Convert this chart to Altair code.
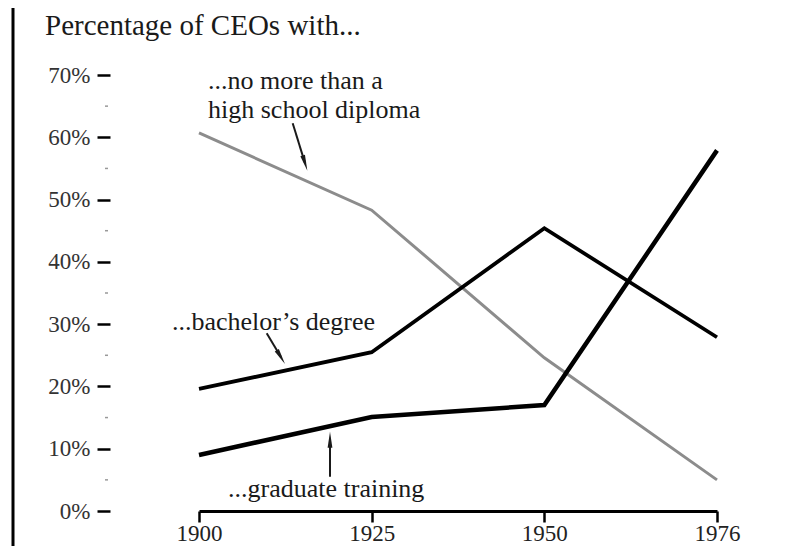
import altair as alt
import pandas as pd

# ---------------- data ----------------
years = ["1900", "1925", "1950", "1976"]
high_school = [60.7, 48.3, 24.6, 5.0]
bachelor = [19.6, 25.5, 45.4, 27.9]
graduate = [9.0, 15.1, 17.0, 57.9]
series_names = ["high school", "bachelor", "graduate"]

y_ticks = [0, 10, 20, 30, 40, 50, 60, 70]
minor_ticks = [5, 15, 25, 35, 45, 55, 65]

title_text = "Percentage of CEOs with..."
annot_hs_1 = "...no more than a"
annot_hs_2 = "high school diploma"
annot_ba = "...bachelor\u2019s degree"
annot_gr = "...graduate training"

rows = []
for name, vals in zip(series_names, [high_school, bachelor, graduate]):
    for yr, v in zip(years, vals):
        rows.append({"year": yr, "pct": v, "series": name})
df = pd.DataFrame(rows)
minor_df = pd.DataFrame({"v": minor_ticks})

FONT = "Liberation Serif"
W, H = 673, 436
ARROW = "M0,1 L-0.3,-1 L0.3,-1 Z"
one = pd.DataFrame({"a": [0]})

x_enc = alt.X(
    "year:O",
    sort=years,
    scale=alt.Scale(type="point", range=[89, 607], padding=0),
    axis=alt.Axis(
        title=None, labelAngle=0, domainColor="black", domainWidth=3,
        tickColor="black", tickWidth=2.5, tickSize=11,
        labelFont=FONT, labelFontSize=23, labelColor="#222", labelPadding=0,
    ),
)
y_enc = alt.Y(
    "pct:Q",
    scale=alt.Scale(domain=[0, 70], nice=False),
    axis=alt.Axis(
        title=None, values=y_ticks, labelExpr="datum.value + '%'",
        domain=False, grid=False, tickSize=13, tickWidth=2.5, tickColor="black",
        labelPadding=7, labelFont=FONT, labelFontSize=23, labelColor="#333",
    ),
)

lines = alt.Chart(df).mark_line(strokeJoin="miter").encode(
    x=x_enc,
    y=y_enc,
    color=alt.Color("series:N", scale=alt.Scale(domain=series_names, range=["#8c8c8c", "#000000", "#000000"]), legend=None),
    strokeWidth=alt.StrokeWidth("series:N", scale=alt.Scale(domain=series_names, range=[3, 4.5, 4.5]), legend=None),
    order=alt.Order("year:O"),
)

minor = alt.Chart(minor_df).mark_rule(color="#999999", strokeWidth=1.5).encode(
    y=alt.Y("v:Q", scale=alt.Scale(domain=[0, 70], nice=False)),
    x=alt.value(-5), x2=alt.value(-2),
)


def label(text, x, y, size=26):
    return alt.Chart(pd.DataFrame({"t": [text]})).mark_text(
        font=FONT, fontSize=size, align="left", baseline="alphabetic", color="#1a1a1a"
    ).encode(text="t:N", x=alt.value(x), y=alt.value(y))


def arrow(x0, y0, x1, y1, angle):
    shaft = alt.Chart(one).mark_rule(color="#1a1a1a", strokeWidth=2).encode(
        x=alt.value(x0), y=alt.value(y0), x2=alt.value(x1), y2=alt.value(y1)
    )
    head = alt.Chart(one).mark_point(
        shape=ARROW, size=256, filled=True, color="#1a1a1a", opacity=1, angle=angle
    ).encode(x=alt.value(x1), y=alt.value(y1))
    return [shaft, head]


border = alt.Chart(one).mark_rule(color="black", strokeWidth=3).encode(
    x=alt.value(-97), y=alt.value(-75), y2=alt.value(471)
)

layers = [border, minor, lines,
          label(title_text, -65, -40, 29),
          label(annot_hs_1, 98, 14),
          label(annot_hs_2, 98, 43),
          label(annot_ba, 62, 255),
          label(annot_gr, 118, 422)]
layers += arrow(182.7, 48.3, 195.0, 88.1, 342.9)
layers += arrow(156.7, 258.3, 170.9, 282.1, 329.2)
layers += arrow(220, 401.7, 220, 364.7, 180)

chart = alt.layer(*layers).properties(
    width=W, height=H,
    autosize=alt.AutoSizeParams(type="none"),
    padding={"left": 102, "top": 67, "right": 0, "bottom": 35},
    background="white",
).configure_view(stroke=None)

chart.save("out.html", embed_options={"renderer": "svg", "actions": False})
